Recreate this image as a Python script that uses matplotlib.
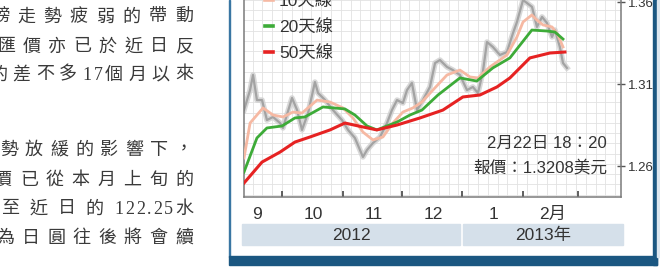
import numpy as np
import pandas as pd
import matplotlib
matplotlib.use('Agg')
import matplotlib.pyplot as plt
from matplotlib.patches import Rectangle
from matplotlib import font_manager

installed = {f.name for f in font_manager.fontManager.ttflist}
latin = 'Liberation Sans Narrow' if 'Liberation Sans Narrow' in installed else 'Liberation Sans'
plt.rcParams['font.family'] = [latin, 'Noto Sans CJK TC']

W, H = 660, 271

# EUR/USD, days counted from 2012-09-01
price_days = [10.6, 13.7, 15.2, 17.2, 19.8, 22.3, 25.4, 29.0, 30.5, 35.1, 37.7, 40.2, 43.3, 46.8,
              48.4, 52.0, 56.0, 60.6, 63.7, 67.2, 68.3, 71.3, 73.4, 76.4, 80.0, 83.6, 86.1, 88.7,
              91.7, 93.8, 96.3, 98.9, 101.9, 105.5, 108.1, 110.6, 114.2, 117.2, 120.8, 124.4,
              127.4, 130.0, 132.5, 134.6, 137.6, 141.2, 144.8, 147.9, 149.9, 153.0, 155.0, 157.6,
              160.1, 162.7, 165.2, 167.8, 169.3, 171.8, 173.4, 175.4]
price_vals = [1.2941, 1.3063, 1.3155, 1.3002, 1.3002, 1.2880, 1.2899, 1.2862, 1.2832, 1.3015,
              1.2941, 1.2820, 1.2923, 1.3112, 1.3045, 1.3002, 1.2941, 1.2880, 1.2820, 1.2771,
              1.2740, 1.2655, 1.2698, 1.2740, 1.2777, 1.2862, 1.2941, 1.3002, 1.2984, 1.3063,
              1.3106, 1.2941, 1.3002, 1.3082, 1.3228, 1.3246, 1.3204, 1.3185, 1.3155, 1.3063,
              1.3082, 1.3045, 1.3173, 1.3356, 1.3326, 1.3277, 1.3295, 1.3411, 1.3478, 1.3612,
              1.3594, 1.3570, 1.3448, 1.3509, 1.3472, 1.3387, 1.3429, 1.3326, 1.3228, 1.3198]

ma10_days = [10.6, 13.7, 20.3, 25.4, 30.5, 35.6, 40.2, 47.9, 54.5, 61.1, 66.2, 71.3, 76.4, 81.5,
             86.6, 91.7, 96.8, 101.4, 107.0, 114.2, 120.8, 125.9, 130.0, 136.1, 144.8, 149.9,
             153.0, 157.5, 160.1, 163.2, 167.8, 170.8, 173.4]
ma10_vals = [1.2649, 1.2862, 1.2954, 1.2911, 1.2899, 1.2929, 1.2923, 1.3002, 1.2990, 1.2954,
             1.2893, 1.2807, 1.2759, 1.2777, 1.2862, 1.2929, 1.2954, 1.2990, 1.3063, 1.3155,
             1.3185, 1.3143, 1.3137, 1.3204, 1.3277, 1.3387, 1.3478, 1.3521, 1.3490, 1.3460,
             1.3448, 1.3399, 1.3326]

ma20_days = [10.6, 17.2, 22.3, 30.0, 36.6, 41.7, 50.9, 62.1, 67.2, 73.4, 78.4, 88.7, 95.3,
             101.4, 109.6, 120.8, 129.4, 137.6, 146.3, 157.5, 165.2, 169.3, 173.4]
ma20_vals = [1.2563, 1.2771, 1.2832, 1.2844, 1.2893, 1.2899, 1.2960, 1.2948, 1.2911, 1.2844,
             1.2820, 1.2868, 1.2911, 1.2941, 1.3033, 1.3137, 1.3118, 1.3198, 1.3259, 1.3429,
             1.3423, 1.3417, 1.3374]

ma50_days = [10.6, 19.8, 29.0, 36.6, 44.3, 54.5, 62.1, 71.3, 78.4, 88.7, 100.4, 112.1, 122.3,
             131.0, 139.7, 146.3, 156.5, 166.7, 174.4]
ma50_vals = [1.2496, 1.2624, 1.2685, 1.2746, 1.2777, 1.2820, 1.2862, 1.2838, 1.2820, 1.2850,
             1.2893, 1.2941, 1.3021, 1.3033, 1.3082, 1.3137, 1.3259, 1.3289, 1.3295]

month_starts = ['2012-10-01', '2012-11-01', '2012-12-01', '2013-01-01', '2013-02-01', '2013-03-01']
month_labels = ['9', '10', '11', '12', '1', '2月']
month_label_days = [17, 46, 77, 107, 138, 168]
year_labels = ['2012', '2013年']
y_ticks = [1.26, 1.31, 1.36]

legend_labels = ['10天線', '20天線', '50天線']
note_lines = ['2月22日 18：20', '報價：1.3208美元']

# newspaper text on the left (cut by the crop)
text_lines = [('鎊走勢疲弱的帶動', -9, 17),
              ('匯價亦已於近日反', -3, 47),
              ('的差不多17個月以來', -11, 75),
              ('勢放緩的影響下，', 0, 150),
              ('價已從本月上旬的', -6, 180),
              ('至近日的122.25水', 1, 209),
              ('為日圓往後將會續', -4, 238)]


def fx(x):
    return x / W


def fy(y):
    return 1 - y / H


fig = plt.figure(figsize=(6.6, 2.71), dpi=100)

# frame of the chart box
frame = '#1b5781'
boxes = [((228.5, 257), 1.5, 257, '#3a76a3'),
         ((653, 265), 3.5, 265, frame),
         ((228.5, 265), 428, 9, frame),
         ((656.5, 257), 4, 257, '#dde7ef'),
         ((242, 245), 218, 21, '#d5e0ea'),
         ((462.5, 245), 160.5, 21, '#d5e0ea')]
for (x, y), w, h, c in boxes:
    fig.patches.append(Rectangle((fx(x), fy(y)), w / W, h / H, transform=fig.transFigure,
                                 color=c, zorder=-5))
fig.text(fx(351), fy(235), year_labels[0], ha='center', va='center', fontsize=12.5, color='#333333')
fig.text(fx(543), fy(235), year_labels[1], ha='center', va='center', fontsize=12.5, color='#333333')

# axes placed by pixel
ymin, ymax = 1.2411, 1.37
ax_top = 166 - (ymax - 1.26) * 1640
ax = fig.add_axes([fx(244), fy(197), (621 - 244) / W, (197 - ax_top) / H])
ax.set_xlim(10.6, 203)
ax.set_ylim(ymin, ymax)

for d in np.arange(10, 205, 5):
    ax.axvline(d, color='#e2e2e2', lw=0.6, zorder=0)
for v in np.arange(1.2425, 1.37, 0.00625):
    ax.axhline(v, color='#e2e2e2', lw=0.6, zorder=0)

ax.plot(price_days, price_vals, color='#cfcfcf', lw=4, alpha=0.8, zorder=2)
ax.plot(price_days, price_vals, color='#a3a3a3', lw=1.6, zorder=2)

ax.plot(ma10_days, ma10_vals, color='#f6b9a3', lw=2, label=legend_labels[0], zorder=3)
ax.plot(ma20_days, ma20_vals, color='#3dab38', lw=2, label=legend_labels[1], zorder=4)
ax.plot(ma50_days, ma50_vals, color='#e62222', lw=2.2, label=legend_labels[2], zorder=5)

leg = ax.legend(loc='upper left', bbox_to_anchor=(fx(265), fy(-7)), bbox_transform=fig.transFigure,
                frameon=False, handlelength=0.45, handletextpad=0.35, labelspacing=0.57,
                borderpad=0, borderaxespad=0, fontsize=12.5)
for t in leg.get_texts():
    t.set_color('#333333')
for h in leg.legend_handles:
    h.set_linewidth(2.6)

# axes look
base = pd.Timestamp('2012-09-01')
tick_days = [(pd.Timestamp(d) - base).days for d in month_starts]
ax.set_xticks(tick_days)
ax.set_xticklabels([])
ax.tick_params(axis='x', which='major', direction='in', length=4, width=1.2, color='#444444')
ax.set_xticks(month_label_days, minor=True)
ax.set_xticklabels(month_labels, minor=True)
ax.tick_params(axis='x', which='minor', length=0, pad=7, labelsize=12.5, labelcolor='#333333')

ax.yaxis.tick_right()
ax.set_yticks(y_ticks)
ax.set_yticklabels(['%.2f' % v for v in y_ticks])
ax.tick_params(axis='y', which='major', direction='inout', length=6, width=1, color='#555555',
               labelsize=9.5, labelcolor='#333333', pad=2)
for s in ['left', 'bottom', 'right']:
    ax.spines[s].set_color('#7a7a7a')
    ax.spines[s].set_linewidth(1.1)
ax.spines['top'].set_visible(False)

# price note
fig.text(fx(607), fy(143), note_lines[0], ha='right', va='center', fontsize=12, color='#333333')
fig.text(fx(607), fy(168), note_lines[1], ha='right', va='center', fontsize=12, color='#333333')

# article column, justified char by char
char_w = 18
for line, x0, yc in text_lines:
    n_ascii = sum(1 for c in line if ord(c) < 128 and c != '.')
    n_dot = line.count('.')
    n_cjk = len(line) - n_ascii - n_dot
    pitch = (193 - char_w - x0 - n_ascii * 11 - n_dot * 6) / (n_cjk - 1)
    x = x0
    for c in line:
        fig.text(fx(x), fy(yc), c, ha='left', va='center', fontsize=13,
                 family=['Liberation Serif', 'Noto Sans CJK TC'], color='#3a3a3a')
        if c == '.':
            x += 6
        elif ord(c) < 128:
            x += 11
        else:
            x += pitch

fig.savefig('out.png', dpi=100)
